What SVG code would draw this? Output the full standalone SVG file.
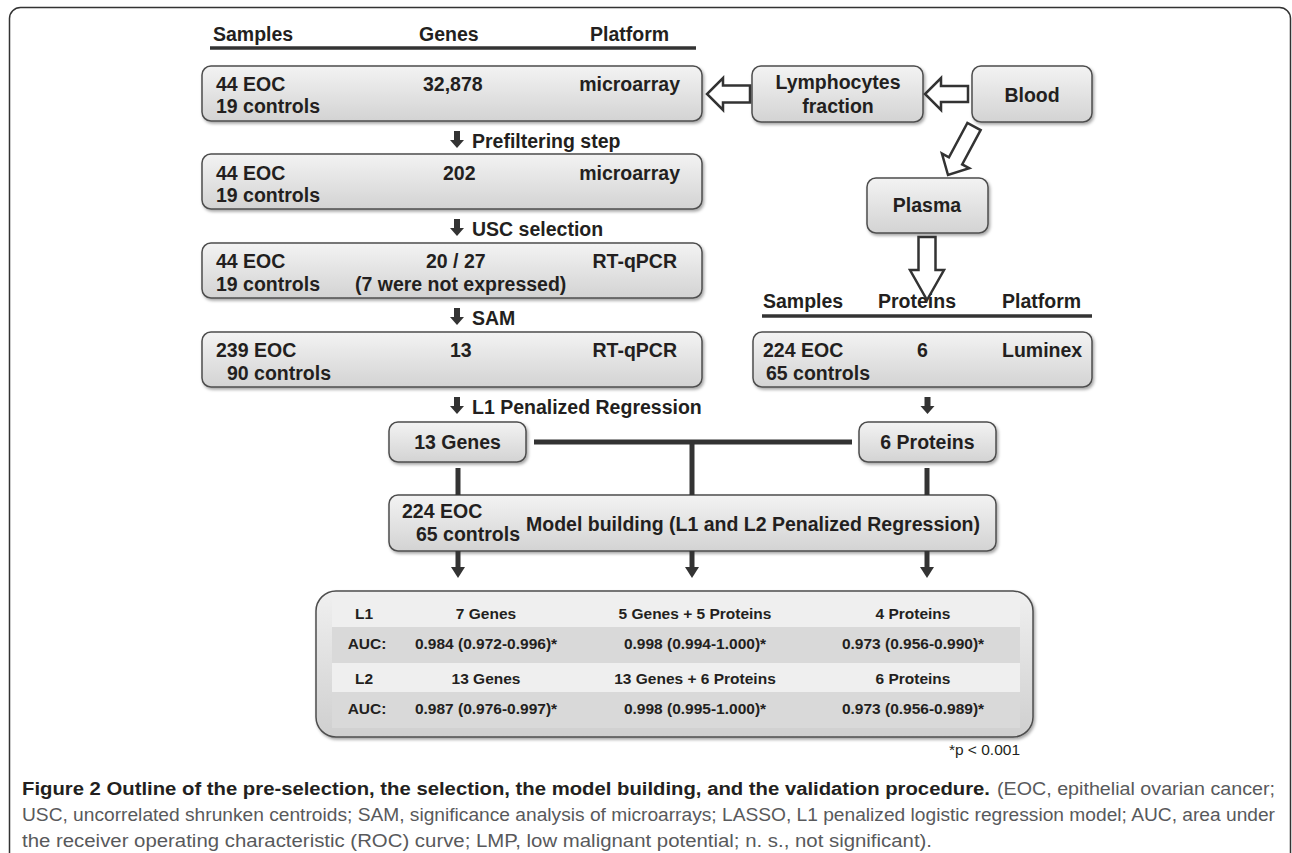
<svg xmlns="http://www.w3.org/2000/svg" width="1292" height="853" viewBox="0 0 1292 853">
<defs>
<linearGradient id="boxg" x1="0" y1="0" x2="0" y2="1">
<stop offset="0" stop-color="#f3f3f3"/>
<stop offset="1" stop-color="#d3d3d3"/>
</linearGradient>
<linearGradient id="tblg" x1="0" y1="0" x2="0" y2="1">
<stop offset="0" stop-color="#f0f0f0"/>
<stop offset="1" stop-color="#cfcfcf"/>
</linearGradient>
<filter id="sh" x="-10%" y="-10%" width="130%" height="140%">
<feDropShadow dx="1.5" dy="2" stdDeviation="1.5" flood-color="#000" flood-opacity="0.35"/>
</filter>
</defs>
<style>
.box{fill:url(#boxg);stroke:#4d4d4d;stroke-width:1.5;filter:url(#sh)}
.t{font-family:"Liberation Sans",Arial,Helvetica,sans-serif;font-weight:bold;font-size:19.5px;fill:#231f20}
.tb{font-family:"Liberation Sans",Arial,Helvetica,sans-serif;font-weight:bold;font-size:15.5px;fill:#231f20}
.m{text-anchor:middle}
.e{text-anchor:end}
.hl{stroke:#333;stroke-width:3.5}
.hollow{fill:#fff;stroke:#333;stroke-width:2.5;stroke-linejoin:miter}
.solid{fill:#333}
.bar{stroke:#333;stroke-width:5;fill:none}
.cap{font-family:"Liberation Sans",Arial,Helvetica,sans-serif;font-size:17.5px}
</style>
<rect x="9.5" y="7.5" width="1281" height="900" rx="11" fill="#fff" stroke="#333" stroke-width="1.5"/>

<g id="header-left">
<text class="t" x="213" y="41">Samples</text>
<text class="t" x="419" y="41">Genes</text>
<text class="t" x="590" y="41">Platform</text>
<line class="hl" x1="210" y1="48" x2="696" y2="48"/>
</g>

<g id="step1">
<rect class="box" x="202" y="66" width="500" height="55" rx="9"/>
<text class="t" x="216" y="91">44 EOC</text>
<text class="t" x="216" y="113">19 controls</text>
<text class="t" x="423" y="91">32,878</text>
<text class="t e" x="680" y="91">microarray</text>
</g>
<g id="step2">
<rect class="box" x="202" y="154" width="500" height="55" rx="9"/>
<text class="t" x="216" y="180">44 EOC</text>
<text class="t" x="216" y="202">19 controls</text>
<text class="t" x="443" y="180">202</text>
<text class="t e" x="680" y="180">microarray</text>
</g>
<g id="step3">
<rect class="box" x="202" y="243" width="500" height="55" rx="9"/>
<text class="t" x="216" y="268">44 EOC</text>
<text class="t" x="216" y="291">19 controls</text>
<text class="t" x="426" y="268">20 / 27</text>
<text class="t" x="355" y="291">(7 were not expressed)</text>
<text class="t e" x="677" y="268">RT-qPCR</text>
</g>
<g id="step4">
<rect class="box" x="202" y="332" width="500" height="55" rx="9"/>
<text class="t" x="216" y="357">239 EOC</text>
<text class="t" x="227" y="380">90 controls</text>
<text class="t" x="450" y="357">13</text>
<text class="t e" x="677" y="357">RT-qPCR</text>
</g>

<g id="lymphocytes">
<rect class="box" x="752" y="66" width="171" height="56" rx="9"/>
<text class="t m" x="838" y="89">Lymphocytes</text>
<text class="t m" x="838" y="113">fraction</text>
</g>
<g id="blood">
<rect class="box" x="972" y="66" width="120" height="56" rx="9"/>
<text class="t m" x="1032" y="102">Blood</text>
</g>
<g id="plasma">
<rect class="box" x="867" y="178" width="121" height="55" rx="9"/>
<text class="t m" x="927" y="212">Plasma</text>
</g>

<g id="header-right">
<text class="t" x="763" y="308">Samples</text>
<text class="t" x="878" y="308">Proteins</text>
<text class="t" x="1002" y="308">Platform</text>
<line class="hl" x1="762" y1="316" x2="1092" y2="316"/>
</g>
<g id="luminex">
<rect class="box" x="753" y="332" width="339" height="55" rx="9"/>
<text class="t" x="763" y="357">224 EOC</text>
<text class="t" x="766" y="380">65 controls</text>
<text class="t" x="917" y="357">6</text>
<text class="t" x="1002" y="357">Luminex</text>
</g>

<g id="genes13">
<rect class="box" x="389" y="422" width="137" height="40" rx="9"/>
<text class="t m" x="457.5" y="449">13 Genes</text>
</g>
<g id="proteins6">
<rect class="box" x="859" y="422" width="137" height="40" rx="9"/>
<text class="t m" x="927.5" y="449">6 Proteins</text>
</g>
<g id="model">
<rect class="box" x="389" y="495" width="607" height="56" rx="9"/>
<text class="t" x="402" y="518">224 EOC</text>
<text class="t" x="416" y="541">65 controls</text>
<text class="t" x="526" y="531">Model building (L1 and L2 Penalized Regression)</text>
</g>

<g id="results">
<rect x="316" y="591" width="717" height="146" rx="20" fill="url(#tblg)" stroke="#4d4d4d" stroke-width="1.5" filter="url(#sh)"/>
<rect x="332" y="598" width="688" height="29" fill="#efefef"/>
<rect x="332" y="627" width="688" height="36" fill="#d9d9d9"/>
<rect x="332" y="663" width="688" height="29" fill="#efefef"/>
<rect x="332" y="692" width="688" height="36" fill="#d9d9d9"/>
<text class="tb m" x="364" y="619">L1</text>
<text class="tb m" x="486" y="619">7 Genes</text>
<text class="tb m" x="695" y="619">5 Genes + 5 Proteins</text>
<text class="tb m" x="913" y="619">4 Proteins</text>
<text class="tb m" x="367" y="649">AUC:</text>
<text class="tb m" x="486" y="649">0.984 (0.972-0.996)*</text>
<text class="tb m" x="695" y="649">0.998 (0.994-1.000)*</text>
<text class="tb m" x="913" y="649">0.973 (0.956-0.990)*</text>
<text class="tb m" x="364" y="684">L2</text>
<text class="tb m" x="486" y="684">13 Genes</text>
<text class="tb m" x="695" y="684">13 Genes + 6 Proteins</text>
<text class="tb m" x="913" y="684">6 Proteins</text>
<text class="tb m" x="367" y="714">AUC:</text>
<text class="tb m" x="486" y="714">0.987 (0.976-0.997)*</text>
<text class="tb m" x="695" y="714">0.998 (0.995-1.000)*</text>
<text class="tb m" x="913" y="714">0.973 (0.956-0.989)*</text>
</g>
<text x="1020" y="755" text-anchor="end" font-family="Liberation Sans, Arial, sans-serif" font-size="15.5" fill="#231f20">*p &lt; 0.001</text>

<g id="connectors">
<path class="hollow" d="M750,85.5 L723,85.5 L723,78 L707,94 L723,110 L723,102.5 L750,102.5 Z"/>
<path class="hollow" d="M968,86 L941,86 L941,78 L925,94 L941,110 L941,102 L968,102 Z"/>
<path class="hollow" transform="translate(974,126.5) rotate(118.2)" d="M0,-7.5 L39,-7.5 L39,-15.5 L55,0 L39,15.5 L39,7.5 L0,7.5 Z"/>
<path class="hollow" d="M918.5,237 L935.5,237 L935.5,270 L944,270 L927,300 L910,270 L918.5,270 Z"/>
<path class="solid" d="M454,131 L460,131 L460,140 L464,140 L457,148 L450,140 L454,140 Z"/>
<text class="t" x="472" y="148">Prefiltering step</text>
<path class="solid" d="M454,219 L460,219 L460,228 L464,228 L457,236 L450,228 L454,228 Z"/>
<text class="t" x="472" y="236">USC selection</text>
<path class="solid" d="M454,308 L460,308 L460,317 L464,317 L457,325 L450,317 L454,317 Z"/>
<text class="t" x="472" y="325">SAM</text>
<path class="solid" d="M454,397 L460,397 L460,406 L464,406 L457,414 L450,406 L454,406 Z"/>
<text class="t" x="472" y="414">L1 Penalized Regression</text>
<path class="solid" d="M924.5,397 L930.5,397 L930.5,406 L934.5,406 L927.5,414 L920.5,406 L924.5,406 Z"/>
<line class="bar" x1="534" y1="442" x2="852" y2="442"/>
<line class="bar" x1="692" y1="442" x2="692" y2="495"/>
<line class="bar" x1="458" y1="468" x2="458" y2="495"/>
<line class="bar" x1="927" y1="468" x2="927" y2="495"/>
<line class="bar" x1="458" y1="551" x2="458" y2="568"/>
<path class="solid" d="M451,567 L465,567 L458,578 Z"/>
<line class="bar" x1="692" y1="551" x2="692" y2="568"/>
<path class="solid" d="M685,567 L699,567 L692,578 Z"/>
<line class="bar" x1="927" y1="551" x2="927" y2="568"/>
<path class="solid" d="M920,567 L934,567 L927,578 Z"/>
</g>

<g id="caption">
<text class="cap" x="22" y="795" font-weight="bold" fill="#231f20" textLength="968" lengthAdjust="spacingAndGlyphs">Figure 2 Outline of the pre-selection, the selection, the model building, and the validation procedure.</text>
<text class="cap" x="997" y="795" fill="#58595b" textLength="278" lengthAdjust="spacingAndGlyphs">(EOC, epithelial ovarian cancer;</text>
<text class="cap" x="22" y="821" fill="#58595b" textLength="1253" lengthAdjust="spacingAndGlyphs">USC, uncorrelated shrunken centroids; SAM, significance analysis of microarrays; LASSO, L1 penalized logistic regression model; AUC, area under</text>
<text class="cap" x="22" y="847" fill="#58595b" textLength="910" lengthAdjust="spacingAndGlyphs">the receiver operating characteristic (ROC) curve; LMP, low malignant potential; n. s., not significant).</text>
</g>
</svg>
